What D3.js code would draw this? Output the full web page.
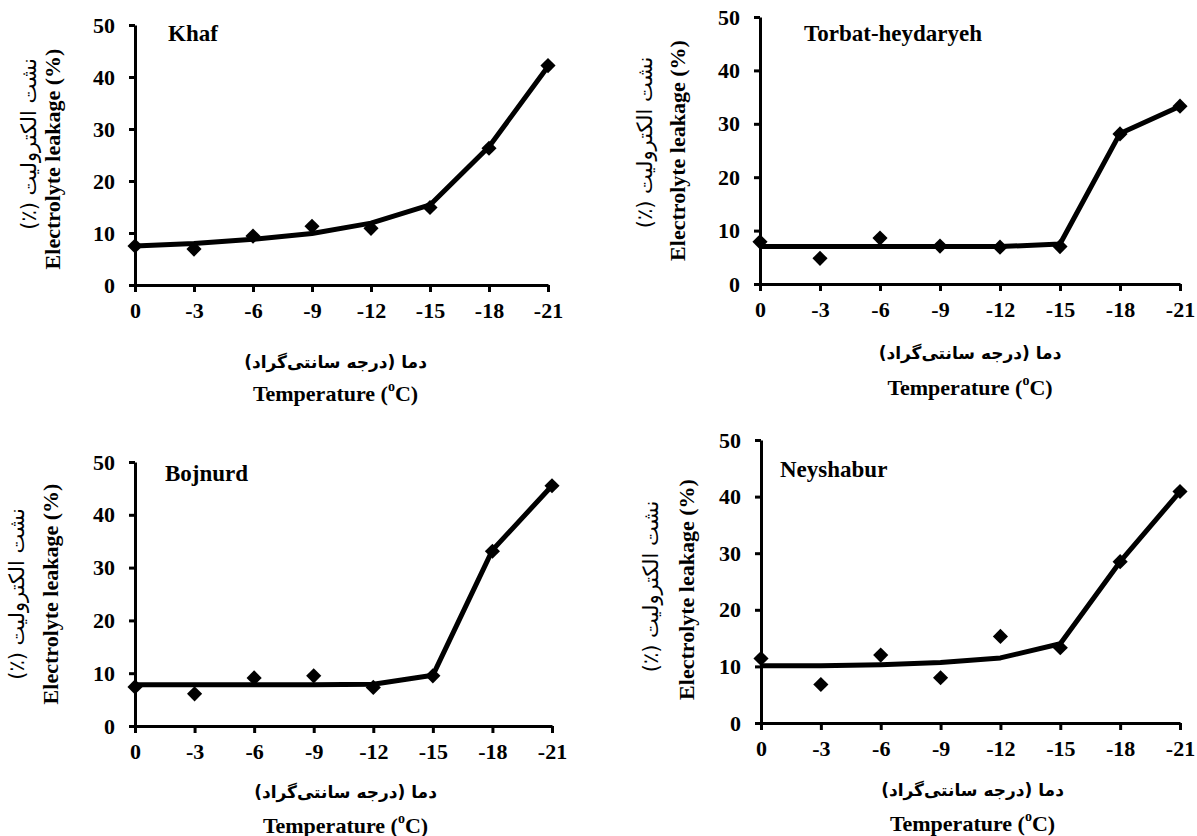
<!DOCTYPE html>
<html>
<head>
<meta charset="utf-8">
<script src="https://cdn.jsdelivr.net/npm/d3@7"></script>
<style>
  body { margin: 0; background: #fff; }
  svg { display: block; }
  .tick text { font-family: "Liberation Serif", "Times New Roman", serif; font-weight: bold; font-size: 22px; fill: #000; }
  .en { font-family: "Liberation Serif", "Times New Roman", serif; font-weight: bold; fill: #000; }
  .fa { font-family: "DejaVu Sans", sans-serif; fill: #000; }
</style>
</head>
<body>
<svg id="chart" width="1197" height="836"></svg>
<script>
// temperatures (category axis)
const temps = ["0", "-3", "-6", "-9", "-12", "-15", "-18", "-21"];
const yTicks = [0, 10, 20, 30, 40, 50];

// observed values (markers) and fitted line per site
const khafObs = [7.5, 6.9, 9.4, 11.3, 10.9, 14.9, 26.3, 42.2];
const khafFit = [7.5, 8.0, 8.8, 9.9, 11.9, 15.4, 26.6, 42.0];
const torbatObs = [7.9, 4.8, 8.6, 7.1, 6.9, 7.0, 28.1, 33.3];
const torbatFit = [7.0, 7.0, 7.0, 7.0, 7.0, 7.5, 28.2, 33.3];
const bojnurdObs = [7.4, 6.1, 9.1, 9.5, 7.3, 9.5, 33.1, 45.5];
const bojnurdFit = [7.8, 7.8, 7.8, 7.8, 7.9, 9.6, 33.3, 45.5];
const neyshaburObs = [11.4, 6.8, 12.0, 8.0, 15.3, 13.3, 28.5, 40.9];
const neyshaburFit = [10.1, 10.1, 10.3, 10.7, 11.5, 14.0, 28.5, 40.9];

const siteNames = ["Khaf", "Torbat-heydaryeh", "Bojnurd", "Neyshabur"];

const yTitleEn = "Electrolyte leakage (%)";
const yTitleFa = "نشت الکترولیت (٪)";
const xTitleFa = "دما (درجه سانتی\u200cگراد)";

// panel layout: plot box + label offsets
const panels = [
  { name: siteNames[0], obs: khafObs, fit: khafFit, x0: 135, x1: 548, top: 25, bottom: 285,
    title: [33, 16], yEn: 83, yFa: 106, yEnDy: 4, yFaDy: -11, xFa: 77, xEn: 108, xDx: -6 },
  { name: siteNames[1], obs: torbatObs, fit: torbatFit, x0: 760, x1: 1180, top: 17, bottom: 284,
    title: [44, 24], yEn: 83, yFa: 115, yEnDy: 0, yFaDy: -8, xFa: 69, xEn: 103, xDx: 0 },
  { name: siteNames[2], obs: bojnurdObs, fit: bojnurdFit, x0: 135, x1: 552, top: 462, bottom: 726,
    title: [30, 19], yEn: 85, yFa: 118, yEnDy: 0, yFaDy: 0, xFa: 66, xEn: 99, xDx: 2 },
  { name: siteNames[3], obs: neyshaburObs, fit: neyshaburFit, x0: 761, x1: 1180, top: 440, bottom: 723,
    title: [19, 37], yEn: 75, yFa: 110, yEnDy: 8, yFaDy: 5, xFa: 67, xEn: 100, xDx: 2 }
];

const svg = d3.select("#chart");
const diamond = d3.symbol().type(d3.symbolSquare).size(115);

panels.forEach(p => {
  const g = svg.append("g");

  const x = d3.scalePoint().domain(temps).range([p.x0, p.x1]);
  const y = d3.scaleLinear().domain([0, 50]).range([p.bottom, p.top]);

  // axes
  const xAxis = g.append("g")
    .attr("transform", `translate(0,${p.bottom})`)
    .call(d3.axisBottom(x).tickSize(7).tickSizeOuter(0).tickPadding(10));
  const yAxis = g.append("g")
    .attr("transform", `translate(${p.x0},0)`)
    .call(d3.axisLeft(y).tickValues(yTicks).tickSize(6).tickSizeOuter(0).tickPadding(14));
  [xAxis, yAxis].forEach(a => {
    a.select(".domain").attr("stroke", "#000").attr("stroke-width", 3);
    a.selectAll(".tick line").attr("stroke", "#000").attr("stroke-width", 3);
  });

  // fitted line
  const line = d3.line()
    .x((d, i) => x(temps[i]))
    .y(d => y(d));
  g.append("path")
    .datum(p.fit)
    .attr("d", line)
    .attr("fill", "none")
    .attr("stroke", "#000")
    .attr("stroke-width", 5)
    .attr("stroke-linejoin", "round");

  // observed markers
  g.selectAll(".pt")
    .data(p.obs)
    .join("path")
    .attr("class", "pt")
    .attr("d", diamond)
    .attr("transform", (d, i) => `translate(${x(temps[i])},${y(d)}) rotate(45)`)
    .attr("fill", "#000");

  // site title
  g.append("text")
    .attr("class", "en")
    .attr("x", p.x0 + p.title[0])
    .attr("y", p.top + p.title[1])
    .attr("font-size", 23)
    .text(p.name);

  // y titles
  const yMid = (p.top + p.bottom) / 2;
  g.append("text")
    .attr("class", "en")
    .attr("font-size", 22)
    .attr("text-anchor", "middle")
    .attr("dominant-baseline", "central")
    .attr("transform", `translate(${p.x0 - p.yEn},${yMid + p.yEnDy}) rotate(-90)`)
    .text(yTitleEn);
  g.append("text")
    .attr("class", "fa")
    .attr("font-size", 21)
    .attr("direction", "rtl")
    .attr("text-anchor", "middle")
    .attr("dominant-baseline", "central")
    .attr("transform", `translate(${p.x0 - p.yFa},${yMid + p.yFaDy}) rotate(-90)`)
    .text(yTitleFa);

  // x titles
  const xMid = (p.x0 + p.x1) / 2 + p.xDx;
  g.append("text")
    .attr("class", "fa")
    .attr("font-size", 17)
    .attr("font-weight", "bold")
    .attr("direction", "rtl")
    .attr("text-anchor", "middle")
    .attr("dominant-baseline", "central")
    .attr("x", xMid)
    .attr("y", p.bottom + p.xFa)
    .text(xTitleFa);
  const tt = g.append("text")
    .attr("class", "en")
    .attr("font-size", 22)
    .attr("text-anchor", "middle")
    .attr("dominant-baseline", "central")
    .attr("x", xMid)
    .attr("y", p.bottom + p.xEn);
  tt.append("tspan").text("Temperature (");
  tt.append("tspan").attr("font-size", 14).attr("dy", -7).text("o");
  tt.append("tspan").attr("dy", 7).text("C)");
});
</script>
</body>
</html>
